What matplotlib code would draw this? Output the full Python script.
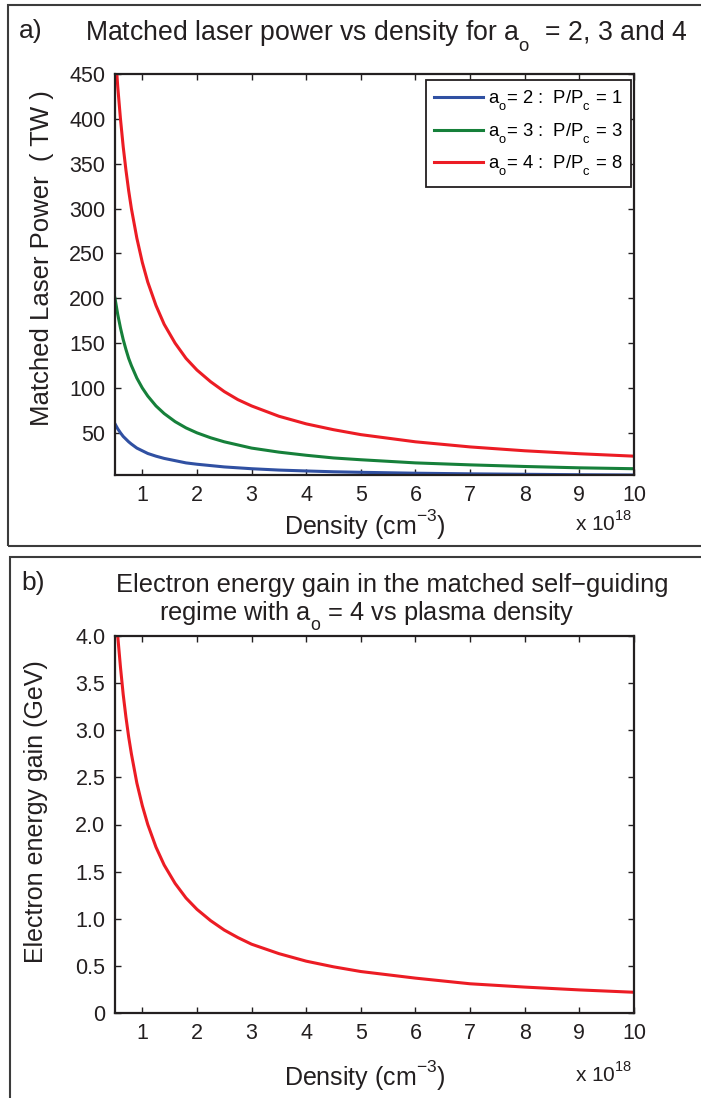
import matplotlib
matplotlib.use("Agg")
import matplotlib.pyplot as plt
import matplotlib._mathtext as mathtext_internals
from matplotlib.patches import Rectangle

plt.rcParams['font.family'] = ['Liberation Sans', 'DejaVu Sans']
plt.rcParams['mathtext.fontset'] = 'custom'
plt.rcParams['mathtext.rm'] = 'Liberation Sans'
plt.rcParams['mathtext.it'] = 'Liberation Sans:italic'
plt.rcParams['mathtext.bf'] = 'Liberation Sans:bold'
# matlab-like deep subscripts / high superscripts
mathtext_internals.FontConstantsBase.sub1 = 0.75
mathtext_internals.FontConstantsBase.sup1 = 0.9

# density in units of 1e18 cm^-3
density = [0.5, 0.55, 0.6, 0.65, 0.7, 0.75, 0.8, 0.9, 1.0, 1.1, 1.25, 1.4, 1.6, 1.8,
           2.0, 2.25, 2.5, 2.75, 3.0, 3.5, 4.0, 4.5, 5.0, 6.0, 7.0, 8.0, 9.0, 10.0]

# matched laser power (TW)
power_a2 = [60, 54.5, 50, 46, 43, 40, 37.5, 33, 30, 27, 24, 21.5, 19, 16.5,
            15, 13.5, 12, 11, 10, 8.5, 7.5, 6.6, 6, 5, 4.3, 3.8, 3.3, 3.0]
power_a3 = [200, 182, 167, 154, 143, 133, 125, 111, 100, 91, 80, 71.5, 62.5, 55.5,
            50, 44.5, 40, 36.5, 33, 28.5, 25, 22, 20, 16.5, 14.3, 12.5, 11, 10]
power_a4 = [480, 436, 400, 369, 343, 320, 300, 267, 240, 218, 192, 171, 150, 133,
            120, 107, 96, 87, 80, 68.5, 60, 53.5, 48, 40, 34.3, 30, 26.7, 24]

# electron energy gain (GeV), a0 = 4
gain = [4.4, 4.0, 3.67, 3.38, 3.14, 2.93, 2.75, 2.44, 2.2, 2.0, 1.76, 1.57, 1.375, 1.22,
        1.1, 0.98, 0.88, 0.8, 0.73, 0.63, 0.55, 0.49, 0.44, 0.37, 0.31, 0.275, 0.245, 0.22]

labels = ['a$_\\mathrm{o}$= 2 :  P/P$_\\mathrm{c}$ = 1',
          'a$_\\mathrm{o}$= 3 :  P/P$_\\mathrm{c}$ = 3',
          'a$_\\mathrm{o}$= 4 :  P/P$_\\mathrm{c}$ = 8']
colors = ['#3050a2', '#16803a', '#ec1c24']

xticks = [1, 2, 3, 4, 5, 6, 7, 8, 9, 10]
yticks_a = [50, 100, 150, 200, 250, 300, 350, 400, 450]
yticks_b = [0, 0.5, 1.0, 1.5, 2.0, 2.5, 3.0, 3.5, 4.0]
yticklabels_b = ['0', '0.5', '1.0', '1.5', '2.0', '2.5', '3.0', '3.5', '4.0']

W, H = 701, 1098
fig = plt.figure(figsize=(W / 100, H / 100), dpi=100)
axc = '#231f20'
fs_tick = 15.5
fs_lab = 18


def fx(px):
    return px / W


def fy(py):
    return 1 - py / H


def style(ax):
    for s in ax.spines.values():
        s.set_color(axc)
        s.set_linewidth(1.6)
    ax.tick_params(direction='in', length=4, width=1.0, color=axc,
                   top=True, right=True, labelsize=fs_tick, labelcolor=axc, pad=7)


# panel frames
fig.patches.append(Rectangle((fx(8), fy(546)), fx(720), 541 / H, transform=fig.transFigure,
                             fill=False, edgecolor='#3c3c3c', linewidth=1.5))
fig.patches.append(Rectangle((fx(10), fy(1110)), fx(720), 553 / H, transform=fig.transFigure,
                             fill=False, edgecolor='#3c3c3c', linewidth=1.5))

# panel a
ax1 = fig.add_axes([fx(115), fy(475), fx(634 - 115), (475 - 74) / H])
for y, lab, c in zip([power_a2, power_a3, power_a4], labels, colors):
    ax1.plot(density, y, color=c, lw=2.2, label=lab)
ax1.set_xlim(0.5, 10)
ax1.set_ylim(3.0, 450)
ax1.set_xticks(xticks)
ax1.set_yticks(yticks_a)
style(ax1)
leg = ax1.legend(loc='upper right', bbox_to_anchor=(0.994, 0.985), fontsize=13.3,
                 fancybox=False, edgecolor=axc, framealpha=1, handlelength=2.6,
                 handletextpad=0.3, labelspacing=0.45, borderpad=0.45, borderaxespad=0)
leg.get_frame().set_linewidth(1.3)

fig.text(fx(19), fy(31), 'a)', fontsize=19, color=axc, va='center', ha='left')
fig.text(fx(85), fy(36), 'Matched laser power vs density for a$_\\mathrm{o}$  = 2, 3 and 4',
         fontsize=19.2, color=axc, va='center', ha='left')
fig.text(fx(42), fy(258), 'Matched Laser Power  ( TW )', fontsize=18.5, color=axc,
         rotation=90, va='center', ha='center')
fig.text(fx(365), fy(525), 'Density (cm$^{-3}$)', fontsize=fs_lab, color=axc,
         va='center', ha='center')
fig.text(fx(575), fy(524), 'x 10$^{18}$', fontsize=15, color=axc, va='center', ha='left')

# panel b
ax2 = fig.add_axes([fx(115), fy(1013), fx(634 - 115), (1013 - 636) / H])
ax2.plot(density, gain, color=colors[2], lw=2.2)
ax2.set_xlim(0.5, 10)
ax2.set_ylim(0, 4.0)
ax2.set_xticks(xticks)
ax2.set_yticks(yticks_b)
ax2.set_yticklabels(yticklabels_b)
style(ax2)

fig.text(fx(21), fy(583), 'b)', fontsize=19, color=axc, va='center', ha='left')
fig.text(fx(392), fy(585), 'Electron energy gain in the matched self\u2212guiding',
         fontsize=18.3, color=axc, va='center', ha='center')
fig.text(fx(367), fy(616), 'regime with a$_\\mathrm{o}$ = 4 vs plasma density',
         fontsize=18.3, color=axc, va='center', ha='center')
fig.text(fx(36), fy(812), 'Electron energy gain (GeV)', fontsize=fs_lab, color=axc,
         rotation=90, va='center', ha='center')
fig.text(fx(365), fy(1076), 'Density (cm$^{-3}$)', fontsize=fs_lab, color=axc,
         va='center', ha='center')
fig.text(fx(575), fy(1075), 'x 10$^{18}$', fontsize=15, color=axc, va='center', ha='left')

fig.savefig('out.png', dpi=100)
